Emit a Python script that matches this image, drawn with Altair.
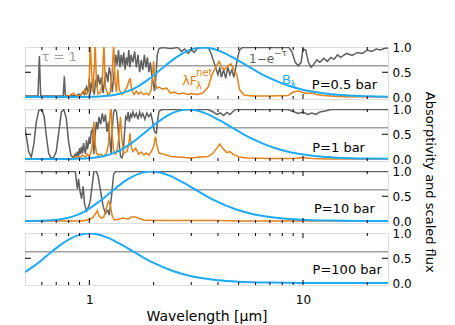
import altair as alt
import pandas as pd

# ---------------- data ----------------
# P = 0.5 bar
p1_gray_wl = [0.50, 0.575, 0.584, 0.592, 0.755, 0.764, 0.772, 0.80, 0.84, 0.87, 0.89, 0.91, 0.93, 0.95, 0.97, 0.985,
              1.0, 1.01, 1.025, 1.04, 1.055, 1.07, 1.085, 1.10, 1.12, 1.14, 1.16, 1.18, 1.20, 1.22, 1.24, 1.26, 1.28,
              1.31, 1.33, 1.35, 1.37, 1.39, 1.41, 1.43, 1.45, 1.47, 1.49, 1.51, 1.53, 1.55, 1.57, 1.60, 1.63, 1.66,
              1.69, 1.72, 1.75, 1.78, 1.81, 1.84, 1.87, 1.90, 1.93, 1.96, 1.99, 2.02, 2.05, 2.08, 2.12, 2.2, 2.4, 2.6,
              2.7, 2.8, 2.9, 3.0, 3.1, 3.2, 3.35, 3.6, 3.7, 3.8, 3.9, 4.0, 4.08, 4.15, 4.25, 4.35, 4.45, 4.55, 4.65,
              4.75, 4.85, 4.95, 5.05, 5.2, 8.6, 8.9, 9.2, 9.5, 9.8, 10.0, 10.3, 10.6, 10.9, 11.2, 11.6, 12.0, 12.5,
              13.0, 13.5, 14.0, 14.5, 15.0, 16.0, 17.0, 18.0, 19.0, 20.0, 21.0, 22.0, 23.0, 24.0, 25.0]
p1_gray_v = [0.02, 0.02, 0.83, 0.02, 0.02, 0.42, 0.03, 0.02, 0.03, 0.02, 0.06, 0.03, 0.10, 0.05, 0.20, 0.10,
             0.38, 0.05, 0.30, 0.15, 0.05, 0.35, 0.20, 0.45, 0.25, 0.40, 0.08, 0.35, 0.50, 0.30, 0.60, 0.45, 0.10,
             0.55, 0.85, 0.65, 0.95, 0.60, 0.85, 0.65, 0.90, 0.55, 0.80, 0.65, 0.95, 0.60, 0.85, 0.70, 0.92, 0.60,
             0.85, 0.50, 0.75, 0.55, 0.85, 0.60, 0.80, 0.50, 0.70, 0.45, 0.30, 0.12, 0.40, 0.85, 0.98, 1.0, 0.98, 1.0,
             0.92, 0.97, 0.88, 0.95, 0.90, 0.98, 1.0, 1.0, 0.90, 0.75, 0.60, 0.45, 0.60, 0.40, 0.55, 0.38, 0.60, 0.45, 0.55,
             0.40, 0.60, 0.80, 0.95, 1.0, 1.0, 0.90, 0.70, 0.63, 0.70, 0.97, 0.95, 0.70, 0.60, 0.65, 0.75, 0.70, 0.78,
             0.72, 0.80, 0.76, 0.85, 0.80, 0.88, 0.84, 0.90, 0.88, 0.95, 0.92, 0.97, 0.95, 0.98, 0.99]
p1_flux_wl = [0.50, 0.76, 0.80, 0.84, 0.87, 0.90, 0.93, 0.95, 0.97, 0.99, 1.0, 1.01, 1.025, 1.04, 1.055, 1.065, 1.08,
              1.10, 1.13, 1.15, 1.17, 1.19, 1.22, 1.25, 1.28, 1.30, 1.32, 1.34, 1.36, 1.38, 1.42, 1.46, 1.50, 1.55,
              1.58, 1.62, 1.66, 1.70, 1.74, 1.80, 1.85, 1.90, 1.95, 2.0, 2.03, 2.07, 2.12, 2.2, 2.3, 2.4, 2.5, 2.6,
              2.75, 2.9, 3.0, 3.2, 3.4, 3.6, 3.75, 3.9, 4.05, 4.18, 4.3, 4.45, 4.6, 4.75, 4.9, 5.05, 5.3, 5.8, 7.0,
              8.5, 9.0, 9.5, 10.0, 10.5, 11.0, 11.5, 12.5, 14.0, 16.0, 25.0]
p1_flux_v = [0.0, 0.0, 0.02, 0.08, 0.03, 0.01, 0.08, 0.15, 0.06, 0.10, 0.40, 1.10, 0.50, 0.10, 0.60, 1.10, 0.30,
             0.06, 0.10, 0.30, 1.10, 0.20, 0.05, 0.08, 0.50, 1.10, 0.30, 0.10, 0.56, 0.15, 0.05, 0.10, 0.20, 0.38,
             0.15, 0.05, 0.12, 0.06, 0.10, 0.05, 0.08, 0.04, 0.15, 0.72, 0.30, 0.18, 0.20, 0.16, 0.18, 0.08, 0.10, 0.06,
             0.08, 0.05, 0.07, 0.05, 0.08, 0.20, 0.45, 0.60, 0.72, 0.58, 0.55, 0.63, 0.67, 0.55, 0.45, 0.15, 0.04, 0.02, 0.02,
             0.03, 0.10, 0.12, 0.09, 0.07, 0.08, 0.05, 0.03, 0.015, 0.005, 0.0]
p1_planck_wl = [0.50, 0.86, 1.02, 1.19, 1.36, 1.53, 1.70, 1.87, 2.04, 2.21, 2.38, 2.55, 2.72, 3.06, 3.40, 3.74, 4.08,
                4.76, 5.44, 6.12, 6.80, 8.50, 10.2, 13.6, 17.0, 25.0]
p1_planck_v = [0.0, 0.0004, 0.004, 0.019, 0.057, 0.125, 0.221, 0.34, 0.466, 0.591, 0.704, 0.80, 0.877, 0.972, 1.0,
               0.979, 0.928, 0.786, 0.638, 0.51, 0.405, 0.232, 0.138, 0.057, 0.027, 0.0075]

# P = 1 bar
p2_gray_wl = [0.50, 0.51, 0.52, 0.535, 0.55, 0.565, 0.58, 0.60, 0.615, 0.63, 0.645, 0.66, 0.68, 0.70, 0.72, 0.74, 0.76,
              0.78, 0.80, 0.82, 0.84, 0.86, 0.87, 0.88, 0.89, 0.90, 0.91, 0.92, 0.93, 0.94, 0.95, 0.96, 0.97, 0.98,
              0.99, 1.0, 1.01, 1.02, 1.035, 1.05, 1.065, 1.08, 1.095, 1.11, 1.13, 1.15, 1.17, 1.19, 1.21, 1.23, 1.25,
              1.265, 1.28, 1.30, 1.32, 1.34, 1.36, 1.38, 1.40, 1.42, 1.44, 1.46, 1.48, 1.50, 1.52, 1.54, 1.56, 1.58,
              1.60, 1.63, 1.66, 1.69, 1.72, 1.75, 1.78, 1.82, 1.86, 1.90, 1.94, 1.98, 2.02, 2.06, 2.09, 2.12, 2.2,
              2.5, 3.0, 3.6, 3.8, 3.95, 4.1, 4.25, 4.4, 4.55, 4.7, 4.85, 8.5, 9.0, 9.5, 10.0, 10.5, 11.0, 11.5,
              12.0, 12.7, 13.5, 25.0]
p2_gray_v = [0.62, 0.40, 0.15, 0.04, 0.30, 0.75, 0.98, 1.0, 0.85, 0.45, 0.12, 0.03, 0.02, 0.15, 0.55, 0.95, 1.0,
             0.82, 0.35, 0.08, 0.03, 0.10, 0.03, 0.15, 0.05, 0.22, 0.10, 0.25, 0.12, 0.32, 0.18, 0.10, 0.38, 0.20,
             0.30, 0.45, 0.30, 0.55, 0.60, 0.10, 0.50, 0.75, 0.60, 0.85, 0.70, 0.92, 0.75, 0.90, 0.55, 0.75, 0.35,
             0.10, 0.60, 0.95, 1.0, 0.95, 0.70, 0.30, 0.05, 0.02, 0.10, 0.50, 0.85, 0.80, 0.95, 0.75, 0.90, 0.85,
             0.95, 0.85, 0.92, 0.80, 0.95, 0.85, 0.92, 0.80, 0.93, 0.85, 0.92, 0.75, 0.55, 0.52, 0.80, 0.97, 1.0,
             1.0, 1.0, 1.0, 0.95, 0.90, 0.93, 0.88, 0.94, 0.90, 0.96, 1.0, 1.0, 0.96, 0.92, 0.95, 0.90, 0.93, 0.90,
             0.95, 0.97, 1.0, 1.0]
p2_flux_wl = [0.50, 0.82, 0.85, 0.88, 0.90, 0.93, 0.96, 0.98, 1.0, 1.02, 1.035, 1.05, 1.065, 1.08, 1.10, 1.13, 1.16,
              1.20, 1.23, 1.25, 1.265, 1.28, 1.30, 1.33, 1.36, 1.40, 1.42, 1.45, 1.50, 1.53, 1.55, 1.57, 1.60, 1.65,
              1.70, 1.75, 1.80, 1.85, 1.90, 1.95, 2.0, 2.04, 2.08, 2.12, 2.2, 2.3, 2.4, 2.6, 2.8, 3.0, 3.3, 3.6, 3.8,
              4.0, 4.08, 4.2, 4.4, 4.55, 4.7, 5.0, 5.5, 7.0, 9.0, 10.0, 11.0, 13.0, 25.0]
p2_flux_v = [0.0, 0.0, 0.03, 0.06, 0.02, 0.08, 0.04, 0.10, 0.05, 0.15, 0.30, 0.75, 0.30, 0.12, 0.08, 0.10, 0.06,
             0.10, 0.30, 0.90, 1.05, 0.50, 0.15, 0.10, 0.25, 0.85, 0.40, 0.12, 0.15, 0.30, 0.52, 0.25, 0.15, 0.22,
             0.10, 0.14, 0.08, 0.12, 0.08, 0.15, 0.25, 0.45, 0.25, 0.12, 0.10, 0.08, 0.05, 0.04, 0.03, 0.02, 0.04, 0.05,
             0.12, 0.25, 0.30, 0.22, 0.13, 0.15, 0.10, 0.04, 0.02, 0.01, 0.01, 0.03, 0.01, 0.0, 0.0]
p2_planck_wl = [0.50, 0.73, 0.87, 1.02, 1.16, 1.31, 1.45, 1.60, 1.74, 1.89, 2.03, 2.18, 2.32, 2.61, 2.90, 3.19, 3.48,
                4.06, 4.64, 5.22, 5.80, 7.25, 8.70, 11.6, 14.5, 20.3, 25.0]
p2_planck_v = [0.0, 0.0004, 0.004, 0.019, 0.057, 0.125, 0.221, 0.34, 0.466, 0.591, 0.704, 0.80, 0.877, 0.972, 1.0,
               0.979, 0.928, 0.786, 0.638, 0.51, 0.405, 0.232, 0.138, 0.057, 0.027, 0.008, 0.004]

# P = 10 bar
p3_gray_wl = [0.50, 0.86, 0.87, 0.88, 0.89, 0.905, 0.92, 0.935, 0.95, 0.97, 0.99, 1.01, 1.03, 1.05, 1.08, 1.10, 1.13,
              1.16, 1.19, 1.22, 1.24, 1.27, 1.30, 1.33, 25.0]
p3_gray_v = [1.0, 1.0, 0.80, 0.65, 0.85, 0.60, 0.45, 0.70, 0.35, 0.20, 0.28, 0.40, 0.70, 1.0, 1.0, 0.90, 0.60,
             0.30, 0.15, 0.22, 0.12, 0.50, 0.95, 1.0, 1.0]
p3_flux_wl = [0.50, 0.90, 0.95, 1.0, 1.03, 1.06, 1.09, 1.11, 1.14, 1.17, 1.20, 1.23, 1.25, 1.28, 1.31, 1.36, 1.43,
              1.47, 1.52, 1.57, 1.65, 1.71, 1.80, 2.0, 3.0, 4.0, 5.0, 25.0]
p3_flux_v = [0.0, 0.0, 0.01, 0.03, 0.06, 0.12, 0.21, 0.10, 0.06, 0.08, 0.25, 0.40, 0.35, 0.10, 0.02, 0.03, 0.06,
             0.05, 0.04, 0.08, 0.08, 0.05, 0.02, 0.01, 0.01, 0.01, 0.0, 0.0]
p3_planck_wl = [0.50, 0.585, 0.68, 0.78, 0.88, 0.975, 1.07, 1.17, 1.27, 1.365, 1.46, 1.56, 1.755, 1.95, 2.145, 2.34,
                2.73, 3.12, 3.51, 3.9, 4.875, 5.85, 7.8, 9.75, 13.65, 19.5, 25.0]
p3_planck_v = [0.0005, 0.004, 0.019, 0.057, 0.125, 0.221, 0.34, 0.466, 0.591, 0.704, 0.80, 0.877, 0.972, 1.0,
               0.979, 0.928, 0.786, 0.638, 0.51, 0.405, 0.232, 0.138, 0.057, 0.027, 0.0082, 0.0022, 0.0009]

# P = 100 bar
p4_planck_wl = [0.50, 0.55, 0.60, 0.65, 0.70, 0.75, 0.80, 0.90, 1.0, 1.1, 1.2, 1.4, 1.6, 1.8, 2.0, 2.5, 3.0, 4.0,
                5.0, 7.0, 10.0, 15.0, 25.0]
p4_planck_v = [0.221, 0.34, 0.466, 0.591, 0.704, 0.80, 0.877, 0.972, 1.0, 0.979, 0.928, 0.786, 0.638, 0.51, 0.405,
               0.232, 0.138, 0.057, 0.027, 0.0082, 0.0022, 0.0004, 0.0]

pressure_labels = ["P=0.5 bar", "P=1 bar", "P=10 bar", "P=100 bar"]
tau_one_level = [0.632]
minor_ticks = [0.6, 0.7, 0.8, 0.9, 2, 3, 4, 5, 6, 7, 8, 9, 20]
major_ticks = [1, 10]
y_tick_values = [0.0, 0.5, 1.0]

# ---------------- styling ----------------
W, H = 363, 52
GRAY = "#5f5f5f"
LIGHT = "#a0a0a0"
ORANGE = "#e1821a"
BLUE = "#1eaaf5"
FONT = "DejaVu Sans"

xscale = alt.Scale(type="log", domain=[0.5, 25], nice=False)
yscale = alt.Scale(domain=[-0.04, 1.01], nice=False, zero=False)
yaxis = alt.Axis(orient="right", values=y_tick_values, format=".1f", ticks=False, domain=False, grid=False,
                 labelFontSize=12, labelColor="black", labelPadding=4, title=None, labelFont=FONT)


def xenc(show_axis):
    if show_axis:
        ax = alt.Axis(values=major_ticks, format="~g", ticks=False, domain=False, grid=False, labelFontSize=12,
                      labelColor="black", labelPadding=9, title="Wavelength [μm]", titleFontSize=14,
                      titleFontWeight="normal", titleColor="black", titlePadding=4, labelFont=FONT, titleFont=FONT)
    else:
        ax = None
    return alt.X("wl:Q", scale=xscale, axis=ax)


yenc = alt.Y("v:Q", scale=yscale, axis=yaxis)


def line(wl, v, color, width, show_axis, interp="linear"):
    df = pd.DataFrame({"wl": wl, "v": v})
    return alt.Chart(df).mark_line(color=color, strokeWidth=width, clip=True, interpolate=interp).encode(
        x=xenc(show_axis), y=yenc)


def label(text, wl, v, color, size, align="left", show_axis=False):
    df = pd.DataFrame({"wl": [wl], "v": [v], "t": [text]})
    return alt.Chart(df).mark_text(color=color, fontSize=size, align=align, baseline="middle", font=FONT).encode(
        x=xenc(show_axis), y=yenc, text="t:N")


def ticks(show_axis):
    layers = []
    for vals, ln in ((minor_ticks, 3), (major_ticks, 5)):
        df = pd.DataFrame({"wl": vals})
        base = alt.Chart(df).mark_rule(color="black", strokeWidth=1)
        layers.append(base.encode(x=xenc(show_axis), y=alt.value(0), y2=alt.value(ln)))
        layers.append(base.encode(x=xenc(show_axis), y=alt.value(H), y2=alt.value(H - ln)))
    dfy = pd.DataFrame({"v": [0.5]})
    by = alt.Chart(dfy).mark_rule(color="black", strokeWidth=1)
    layers.append(by.encode(y=yenc, x=alt.value(0), x2=alt.value(6)))
    layers.append(by.encode(y=yenc, x=alt.value(W), x2=alt.value(W - 6)))
    return layers


def panel(gray, flux, planck, plabel, plabel_pos, extra, show_axis=False):
    hl = alt.Chart(pd.DataFrame({"v": tau_one_level})).mark_rule(color=LIGHT, strokeWidth=1.5).encode(y=yenc)
    layers = [hl]
    if gray is not None:
        layers.append(line(gray[0], gray[1], GRAY, 1.5, show_axis))
    if flux is not None:
        layers.append(line(flux[0], flux[1], ORANGE, 1.5, show_axis))
    layers.append(line(planck[0], planck[1], BLUE, 2, show_axis, "monotone"))
    layers += extra
    layers.append(label(plabel, plabel_pos[0], plabel_pos[1], "black", 13, "right", show_axis))
    layers += ticks(show_axis)
    return alt.layer(*layers).properties(width=W, height=H)


extra1 = [
    label("τ = 1", 0.597, 0.80, LIGHT, 13, "left"),
    label("1−e", 5.59, 0.76, GRAY, 12),
    label("−τ", 7.32, 0.88, GRAY, 9),
    label("λF", 2.72, 0.33, ORANGE, 13),
    label("net", 3.16, 0.48, ORANGE, 10),
    label("λ", 3.16, 0.22, ORANGE, 10),
    label("B", 7.98, 0.35, BLUE, 13),
    label("λ", 8.7, 0.24, BLUE, 10),
]

c1 = panel((p1_gray_wl, p1_gray_v), (p1_flux_wl, p1_flux_v), (p1_planck_wl, p1_planck_v),
           pressure_labels[0], (22.2, 0.25), extra1)
c2 = panel((p2_gray_wl, p2_gray_v), (p2_flux_wl, p2_flux_v), (p2_planck_wl, p2_planck_v),
           pressure_labels[1], (19.5, 0.23), [])
c3 = panel((p3_gray_wl, p3_gray_v), (p3_flux_wl, p3_flux_v), (p3_planck_wl, p3_planck_v),
           pressure_labels[2], (21.7, 0.25), [])
c4 = panel(None, None, (p4_planck_wl, p4_planck_v), pressure_labels[3], (23.4, 0.27), [], show_axis=True)

chart = alt.vconcat(c1, c2, c3, c4, spacing=10, bounds="flush").properties(
    title=alt.TitleParams("Absorptivity and scaled flux", orient="right", anchor="middle", fontSize=13,
                          fontWeight="normal", font=FONT, color="black", offset=11),
    padding={"left": 15, "top": 32, "right": 4, "bottom": 0},
).configure_view(stroke="black", strokeWidth=1.5).configure(font=FONT)

chart.save("out.html", embed_options={"renderer": "svg", "actions": False})
